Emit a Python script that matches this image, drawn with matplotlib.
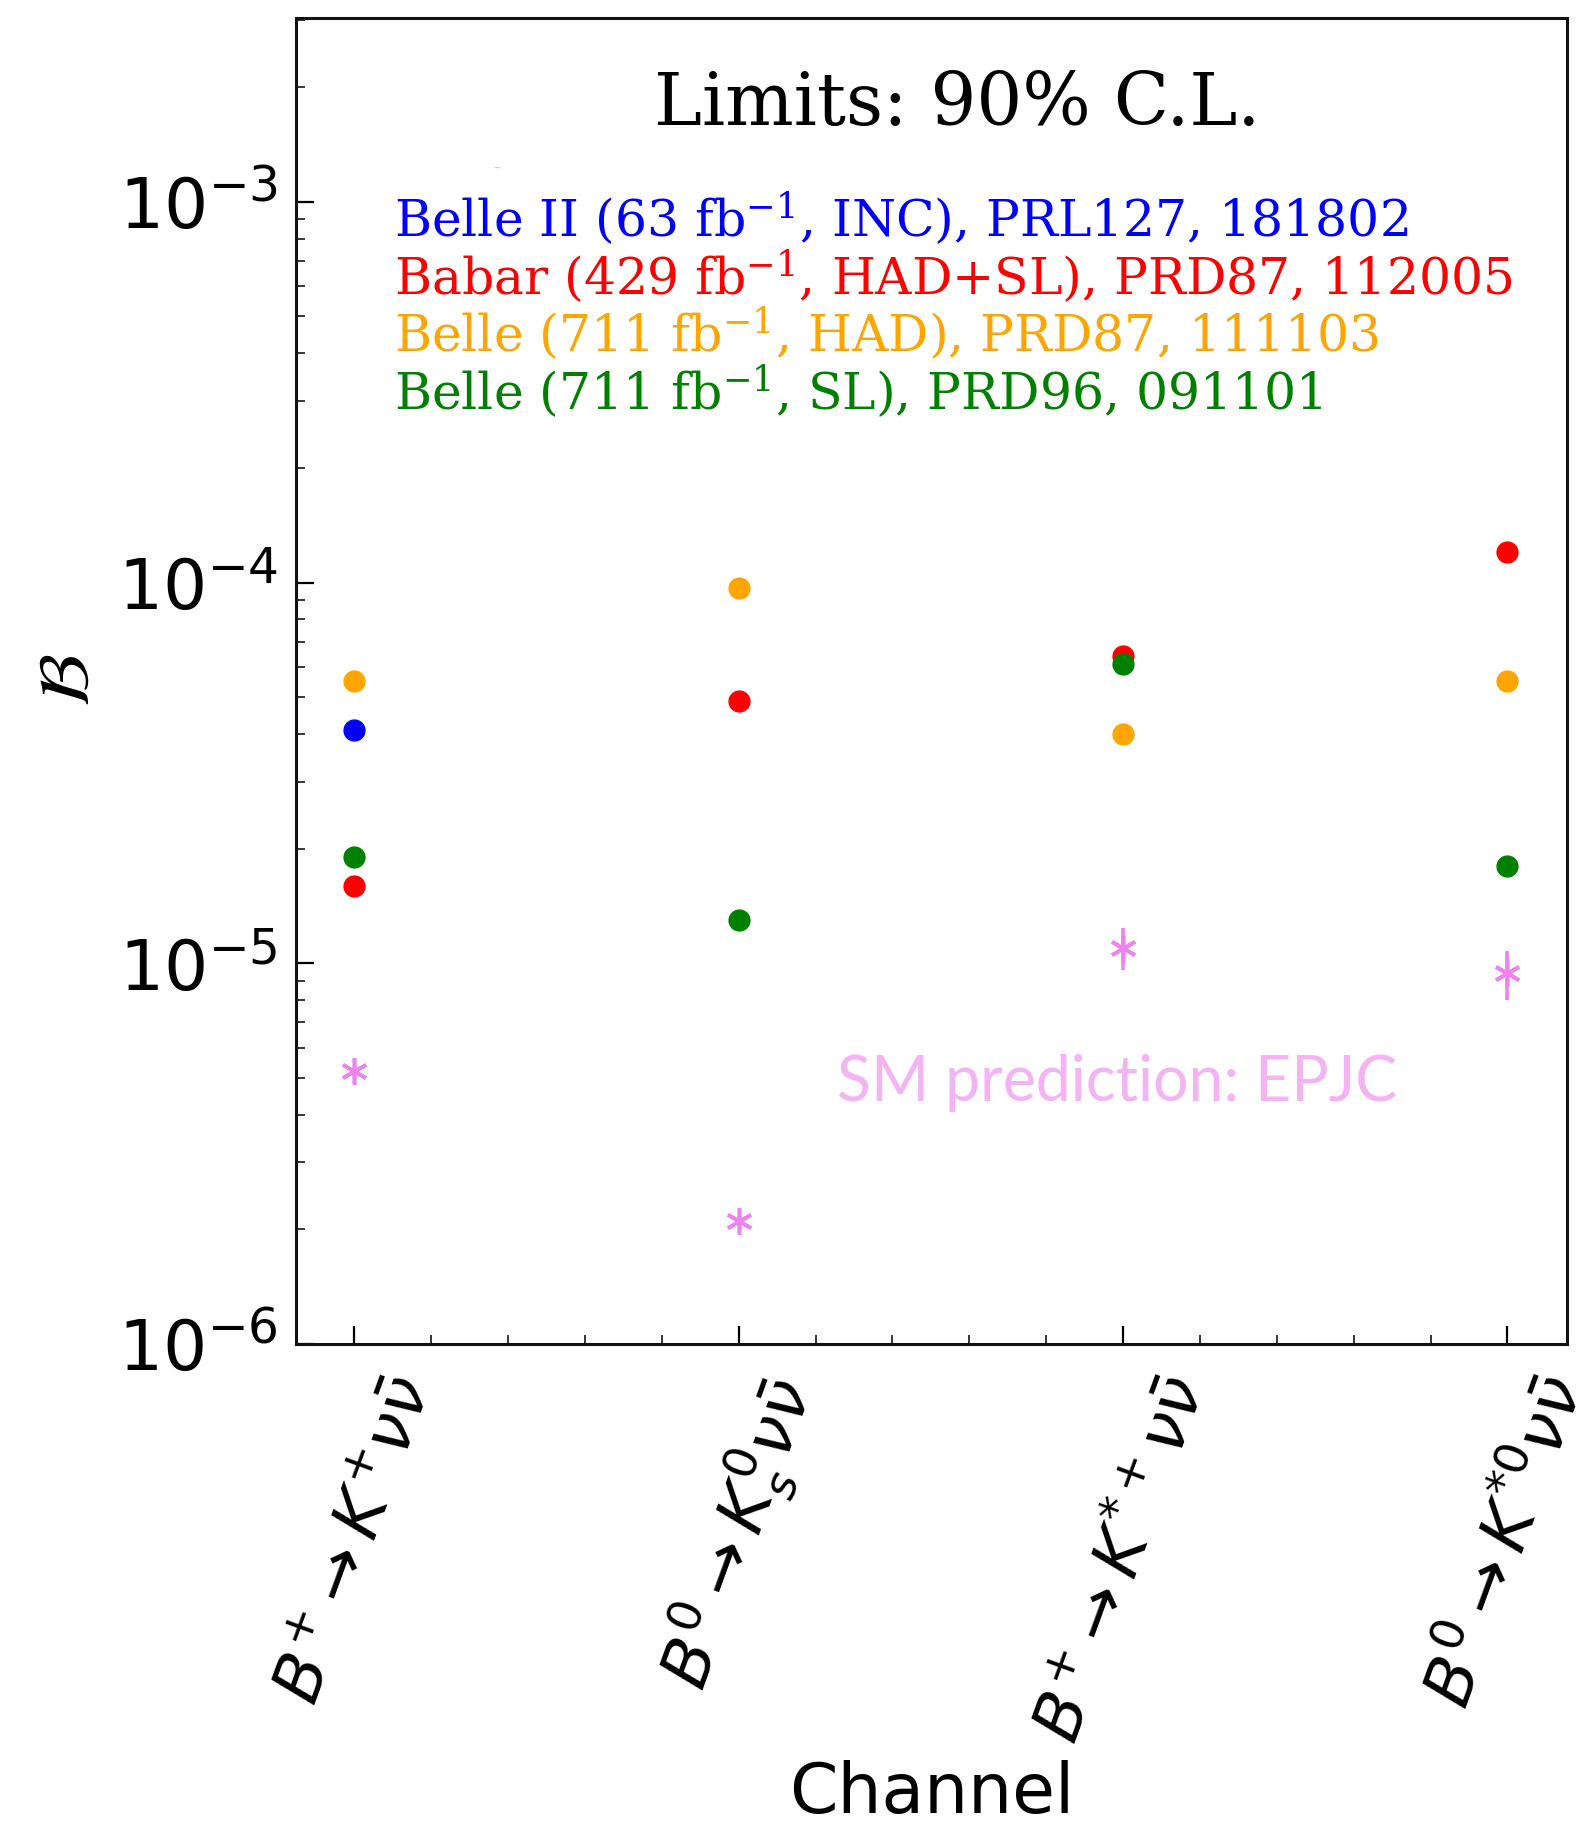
import numpy as np
import matplotlib
matplotlib.use("Agg")
import matplotlib.pyplot as plt
from matplotlib.ticker import LogLocator, MultipleLocator, NullFormatter

# decay channels on the x axis
channels = [r'$B^{+}\rightarrow K^{+}\nu\bar{\nu}$',
            r'$B^{0}\rightarrow K^{0}_{s}\nu\bar{\nu}$',
            r'$B^{+}\rightarrow K^{*+}\nu\bar{\nu}$',
            r'$B^{0}\rightarrow K^{*0}\nu\bar{\nu}$']

# 90% C.L. upper limits (None = no result for that channel)
belle2_inc = [4.1e-5, None, None, None]
babar_had_sl = [1.6e-5, 4.9e-5, 6.4e-5, 1.2e-4]
belle_had = [5.5e-5, 9.7e-5, 4.0e-5, 5.5e-5]
belle_sl = [1.9e-5, 1.3e-5, 6.1e-5, 1.8e-5]

# SM predictions and their uncertainties
sm_pred = [5.2e-6, 2.1e-6, 1.1e-5, 9.4e-6]
sm_err = [0.15e-6, 0.07e-6, 1.4e-6, 1.4e-6]

experiments = [
    ('Belle II (63 fb$^{-1}$, INC), PRL127, 181802', belle2_inc, 'blue'),
    ('Babar (429 fb$^{-1}$, HAD+SL), PRD87, 112005', babar_had_sl, 'red'),
    ('Belle (711 fb$^{-1}$, HAD), PRD87, 111103', belle_had, 'orange'),
    ('Belle (711 fb$^{-1}$, SL), PRD96, 091101', belle_sl, 'green'),
]

fig = plt.figure(figsize=(15.93, 18.27), dpi=100)
ax = fig.add_axes([0.1858, 0.2644, 0.7979, 0.726])

x = np.arange(len(channels))

for label, vals, col in experiments:
    xs = [i for i, v in zip(x, vals) if v is not None]
    ys = [v for v in vals if v is not None]
    ax.plot(xs, ys, 'o', color=col, markersize=15, linestyle='none')

ax.errorbar(x, sm_pred, yerr=sm_err, fmt='none', ecolor='violet', elinewidth=2.6)
ax.plot(x, sm_pred, marker=(6, 2, 0), color='violet', markersize=19,
        markeredgewidth=2.6, linestyle='none')

ax.set_yscale('log')
ax.set_ylim(1e-6, 3.05e-3)
ax.set_xlim(-0.152, 3.155)

ax.set_xticks(x)
ax.set_xticklabels(channels, rotation=70, fontsize=48.5)
ax.xaxis.set_minor_locator(MultipleLocator(0.2))
ax.yaxis.set_major_locator(LogLocator(base=10, numticks=10))
ax.yaxis.set_minor_locator(LogLocator(base=10, subs=np.arange(2, 10), numticks=20))
ax.yaxis.set_minor_formatter(NullFormatter())

ax.tick_params(axis='both', which='major', direction='in', length=13, width=1.6,
               pad=14, top=False, right=False)
ax.tick_params(axis='y', which='major', labelsize=50, pad=13)
ax.tick_params(axis='both', which='minor', direction='in', length=6.5, width=1.1,
               top=False, right=False)
ax.tick_params(axis='x', which='major', pad=18)
for sp in ax.spines.values():
    sp.set_linewidth(2.2)
    sp.set_color('#111111')

ax.set_xlabel('Channel', fontsize=50, labelpad=6)
ax.set_ylabel(r'$\mathcal{B}$', fontsize=52, math_fontfamily='stix', labelpad=10)

ax.text(0.52, 0.919, 'Limits: 90% C.L.', transform=ax.transAxes, ha='center',
        va='baseline', fontsize=52, family='DejaVu Serif')

for k, (label, vals, col) in enumerate(experiments):
    ax.text(0.077, 0.8348 - 0.0435 * k, label, transform=ax.transAxes,
            ha='left', va='baseline', fontsize=36.3, color=col,
            family='DejaVu Serif', math_fontfamily='dejavuserif')

ax.text(0.158, 0.886, '\u2013', transform=ax.transAxes, ha='center', va='center',
        fontsize=10, color='violet', alpha=0.6)

ax.text(0.4256, 0.183, 'SM prediction: EPJC', transform=ax.transAxes,
        ha='left', va='baseline', fontsize=45, color='violet', alpha=0.6,
        family='Lato', fontweight='normal')

fig.savefig('out.png', dpi=100)
